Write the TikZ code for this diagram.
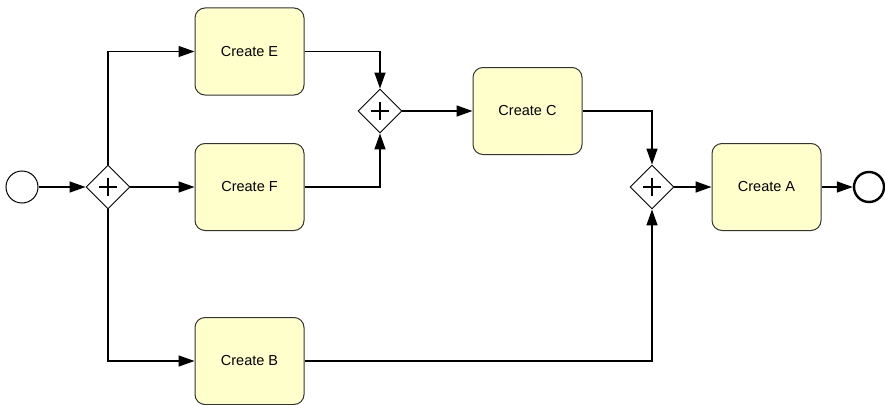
\documentclass[tikz,border=0pt]{standalone}
\usepackage{fontspec}
\setsansfont{Liberation Sans}
\usepackage{xcolor}
\usepackage{tikz}
\usetikzlibrary{arrows.meta,shapes.geometric}
\definecolor{taskfill}{HTML}{FFFFCC}
\definecolor{taskline}{HTML}{333333}

\begin{document}
\begin{tikzpicture}[x=1pt,y=-1pt,>=Stealth,
    task/.style={draw=taskline,fill=taskfill,line width=1pt,rounded corners=10pt,
      minimum width=109pt,minimum height=87pt,inner sep=0pt,
      font=\sffamily\fontsize{14.5}{16}\selectfont},
    gateway/.style={diamond,draw,fill=white,line width=.9pt,inner sep=0pt,
      minimum width=44pt,minimum height=44pt,
      path picture={\draw[line width=2.3pt]
        ([xshift=-9pt]path picture bounding box.center) -- ([xshift=9pt]path picture bounding box.center)
        ([yshift=-9pt]path picture bounding box.center) -- ([yshift=9pt]path picture bounding box.center);}},
    flow/.style={line width=1.4pt,-{Triangle[length=16pt,width=11pt]}}]
  \useasboundingbox (0,0) rectangle (885,404);

  \node[circle,draw,line width=1pt,minimum size=32pt,inner sep=0pt] (start) at (22,187) {};
  \node[gateway] (split) at (108,187) {};
  \node[task] (createE) at (249.5,51.5) {Create E};
  \node[task] (createF) at (249.5,187) {Create F};
  \node[task] (createB) at (249.5,361) {Create B};
  \node[gateway] (joinEF) at (380,111) {};
  \node[task] (createC) at (527.5,111) {Create C};
  \node[gateway] (joinCB) at (652,187) {};
  \node[task] (createA) at (766.5,187) {Create A};
  \node[circle,draw,line width=2.4pt,minimum size=30pt,inner sep=0pt] (finish) at (869,187) {};

  \draw[flow] (start) -- (split);
  \draw[flow] (split.north) |- (createE.west);
  \draw[flow] (split.east) -- (createF.west);
  \draw[flow] (split.south) |- (createB.west);
  \draw[flow] (createE.east) -| (joinEF.north);
  \draw[flow] (createF.east) -| (joinEF.south);
  \draw[flow] (joinEF.east) -- (createC.west);
  \draw[flow] (createC.east) -| (joinCB.north);
  \draw[flow] (createB.east) -| (joinCB.south);
  \draw[flow] (joinCB.east) -- (createA.west);
  \draw[flow] (createA.east) -- (finish.west);
\end{tikzpicture}
\end{document}
